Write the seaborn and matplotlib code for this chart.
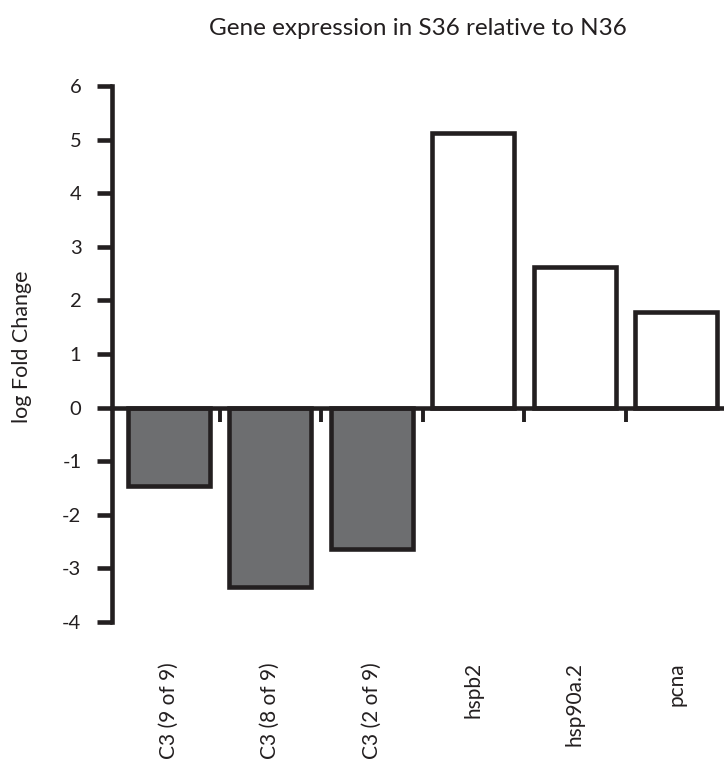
import seaborn as sns
import matplotlib.pyplot as plt
import numpy as np

genes = ['C3 (9 of 9)', 'C3 (8 of 9)', 'C3 (2 of 9)', 'hspb2', 'hsp90a.2', 'pcna']
fold_change = [-1.47, -3.34, -2.63, 5.13, 2.63, 1.79]
bar_colors = ['#6d6e70', '#6d6e70', '#6d6e70', '#ffffff', '#ffffff', '#ffffff']

sns.set_style('ticks')
plt.rcParams['font.family'] = ['Lato', 'DejaVu Sans']
plt.rcParams['axes.unicode_minus'] = False
ink = '#231f20'

fig = plt.figure(figsize=(7.24, 7.67), dpi=100)
ax = fig.add_axes([0.1547, 0.189, 0.8453, 0.699])

sns.barplot(x=genes, y=fold_change, hue=genes, palette=bar_colors, legend=False,
            edgecolor=ink, linewidth=3.3, width=0.81, ax=ax)

ax.set_ylim(-4, 6)
ax.set_xlim(-0.56, 5.47)
ax.set_yticks(range(-4, 7))
ax.tick_params(axis='y', length=11, width=3.3, color=ink, labelsize=14.5, pad=11, labelcolor=ink)

# x axis line sits at zero, ticks between the bars
ax.spines['bottom'].set_position(('data', 0))
ax.spines['bottom'].set_linewidth(3.3)
ax.spines['bottom'].set_color(ink)
ax.spines['left'].set_linewidth(3.3)
ax.spines['left'].set_color(ink)
sns.despine(ax=ax, top=True, right=True)
ax.set_xticks(np.arange(len(genes) - 1) + 0.5)
ax.set_xticklabels([])
ax.tick_params(axis='x', direction='out', length=10, width=2.8, color=ink)
ax.set_xlabel('')

# gene names below the plot
sec = ax.secondary_xaxis('bottom')
sec.set_xticks(range(len(genes)))
sec.set_xticklabels(genes, rotation=90, fontsize=15, color=ink)
sec.tick_params(length=0, pad=29)
sec.spines['bottom'].set_visible(False)

ax.set_ylabel('log Fold Change', fontsize=15.5, color=ink)
ax.yaxis.set_label_coords(-0.13, 0.513)
ax.set_title('Gene expression in S36 relative to N36', fontsize=17.5, color=ink, pad=37)

fig.savefig('out.png', dpi=100)
